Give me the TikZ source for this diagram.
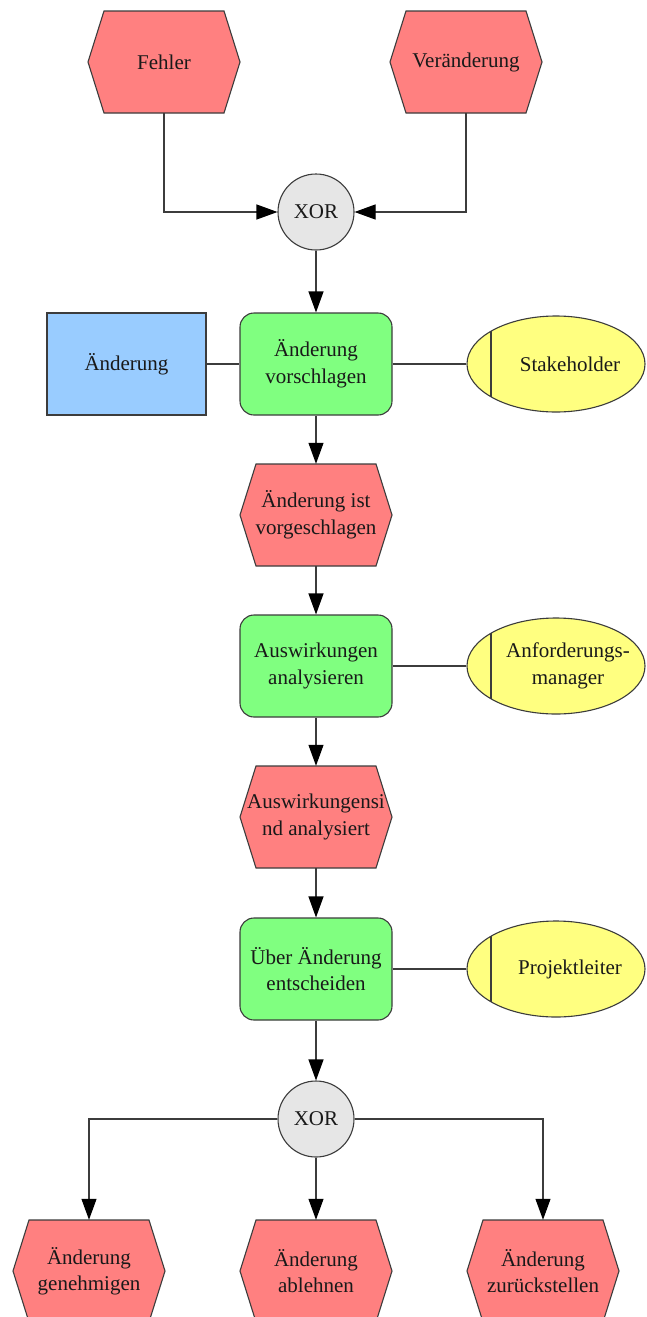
\documentclass[tikz,border=0pt]{standalone}
\usepackage{fontspec}
\setmainfont{Liberation Serif}
\usetikzlibrary{arrows.meta,shapes.geometric}

\pgfdeclarelayer{paper}
\pgfdeclarelayer{background}
\pgfsetlayers{paper,background,main}

\definecolor{evtred}{HTML}{FF8080}
\definecolor{fnkgreen}{HTML}{80FF80}
\definecolor{objblue}{HTML}{99CCFF}
\definecolor{orgyellow}{HTML}{FFFF80}
\definecolor{gategray}{HTML}{E6E6E6}
\definecolor{edge}{HTML}{3C3C3C}

\tikzset{
  txt/.style={font=\fontsize{21}{26.5}\selectfont, align=center, text=black!90},
  evtbox/.style={txt, minimum width=120pt, minimum height=102pt, inner sep=0pt},
  evtline/.style={draw=edge, line width=1.1pt, fill=evtred, line join=miter},
  fnkbox/.style={txt, draw=edge, line width=1.1pt, fill=fnkgreen, rounded corners=14pt,
    minimum width=152pt, minimum height=102pt, inner sep=0pt},
  objbox/.style={txt, draw=edge, line width=1.1pt, fill=objblue,
    minimum width=159pt, minimum height=102pt, inner sep=0pt},
  orgell/.style={ellipse, draw=edge, line width=1.1pt, fill=orgyellow,
    minimum width=178pt, minimum height=96pt, inner sep=0pt},
  gate/.style={txt, circle, draw=edge, line width=1.1pt, fill=gategray,
    minimum size=76pt, inner sep=0pt},
  conn/.style={draw=edge, line width=1.1pt},
  arr/.style={conn, -{Triangle[length=21pt,width=15pt]}, arrows={[color=black]}},
}

% hexagonal event outline (152 x 102) around a named node, drawn behind its text
\newcommand\evtshape[1]{%
  \begin{pgfonlayer}{background}
    \path[evtline] ([xshift=-60pt,yshift=-51pt]#1.center) -- ([xshift=60pt,yshift=-51pt]#1.center)
      -- ([xshift=76pt]#1.center) -- ([xshift=60pt,yshift=51pt]#1.center)
      -- ([xshift=-60pt,yshift=51pt]#1.center) -- ([xshift=-76pt]#1.center) -- cycle;
  \end{pgfonlayer}}

% role ellipse with its vertical bar near the left side
\newcommand\orgbar[1]{%
  \draw[conn] ([xshift=-65pt,yshift=-32.8pt]#1.center) -- ([xshift=-65pt,yshift=32.8pt]#1.center);}

\begin{document}
\begin{tikzpicture}[x=1pt,y=-1pt]
  \begin{pgfonlayer}{paper}
    \fill[white] (0,0) rectangle (646,1317);
  \end{pgfonlayer}
  \useasboundingbox (0,0) rectangle (646,1317);

  % start events and first gate
  \node[evtbox] (fehler) at (164,62) {Fehler};
  \node[evtbox] (veraenderung) at (466,62) {Veränderung};
  \evtshape{fehler}
  \evtshape{veraenderung}
  \node[gate] (xor1) at (316,212) {XOR};

  % proposing a change
  \node[objbox] (aenderung) at (126.5,364) {Änderung};
  \node[fnkbox] (vorschlagen) at (316,364) {Änderung\\vorschlagen};
  \node[orgell] (stakeholder) at (556,364) {};
  \orgbar{stakeholder}
  \node[txt] (stakeholder-t) at (570,364) {Stakeholder};

  \node[evtbox] (vorgeschlagen) at (316,515) {Änderung ist\\vorgeschlagen};
  \evtshape{vorgeschlagen}

  % impact analysis
  \node[fnkbox] (analysieren) at (316,666) {Auswirkungen\\analysieren};
  \node[orgell] (anfmanager) at (556,666) {};
  \orgbar{anfmanager}
  \node[txt] (anfmanager-t) at (568,666) {Anforderungs-\\manager};

  \node[evtbox] (analysiert) at (316,817) {Auswirkungensi\\nd analysiert};
  \evtshape{analysiert}

  % decision
  \node[fnkbox] (entscheiden) at (316,969) {Über Änderung\\entscheiden};
  \node[orgell] (projektleiter) at (556,969) {};
  \orgbar{projektleiter}
  \node[txt] (projektleiter-t) at (570,969) {Projektleiter};

  \node[gate] (xor2) at (316,1119) {XOR};

  % outcomes
  \node[evtbox] (genehmigen) at (89,1271) {Änderung\\genehmigen};
  \node[evtbox] (ablehnen) at (316,1271) {Änderung\\ablehnen};
  \node[evtbox] (zurueck) at (543,1271) {Änderung\\zurückstellen};
  \evtshape{genehmigen}
  \evtshape{ablehnen}
  \evtshape{zurueck}

  % control flow
  \draw[arr] (fehler.south) |- (xor1.west);
  \draw[arr] (veraenderung.south) |- (xor1.east);
  \draw[arr] (xor1.south) -- (vorschlagen.north);
  \draw[arr] (vorschlagen.south) -- (vorgeschlagen.north);
  \draw[arr] (vorgeschlagen.south) -- (analysieren.north);
  \draw[arr] (analysieren.south) -- (analysiert.north);
  \draw[arr] (analysiert.south) -- (entscheiden.north);
  \draw[arr] (entscheiden.south) -- (xor2.north);
  \draw[arr] (xor2.west) -| (genehmigen.north);
  \draw[arr] (xor2.south) -- (ablehnen.north);
  \draw[arr] (xor2.east) -| (zurueck.north);

  % associations
  \draw[conn] (aenderung.east) -- (vorschlagen.west);
  \draw[conn] (vorschlagen.east) -- (stakeholder.west);
  \draw[conn] (analysieren.east) -- (anfmanager.west);
  \draw[conn] (entscheiden.east) -- (projektleiter.west);
\end{tikzpicture}
\end{document}
